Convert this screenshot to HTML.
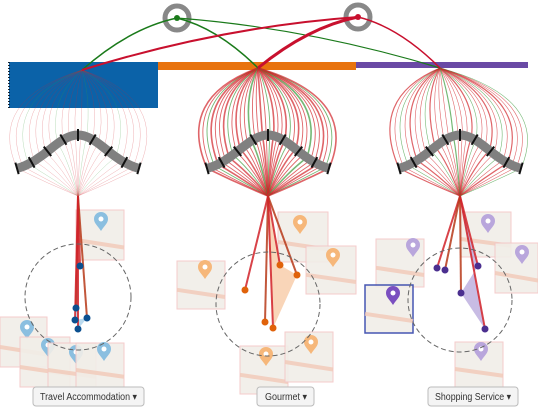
<!DOCTYPE html>
<html><head><meta charset="utf-8"><style>
html,body{margin:0;padding:0;background:#fff;}
svg{display:block;font-family:"Liberation Sans","Noto Sans CJK SC",sans-serif;}
.btn{fill:#f4f4f4;stroke:#bbb;}
</style></head><body>
<svg id="s" width="538" height="411" viewBox="0 0 538 411" xmlns="http://www.w3.org/2000/svg">
<g id="maps"></g>
<rect x="9" y="62" width="149" height="46" fill="#0b62a8"/>
<line x1="9" y1="62" x2="9" y2="108" stroke="#123" stroke-width="2" stroke-dasharray="1,2"/>
<rect x="158" y="62" width="198" height="8" fill="#e8730e"/>
<rect x="356" y="62" width="172" height="6" fill="#6a4aa5"/>
<g id="fans"></g>
<g id="arcs"></g>
<circle cx="177" cy="18" r="12" fill="none" stroke="#888" stroke-width="5"/>
<circle cx="358" cy="17" r="12" fill="none" stroke="#888" stroke-width="5"/>
<g id="top"></g>
<circle cx="177" cy="18" r="3" fill="#1a7a1a"/>
<circle cx="358" cy="17" r="3" fill="#c8102e"/>
<g id="low"></g>
<circle cx="78" cy="297" r="53" fill="none" stroke="#666" stroke-dasharray="5,3"/>
<circle cx="268" cy="304" r="52" fill="none" stroke="#666" stroke-dasharray="5,3"/>
<circle cx="460" cy="300" r="52" fill="none" stroke="#666" stroke-dasharray="5,3"/>
<rect class="btn" x="33" y="387" width="111" height="19" rx="3"/>
<text x="40" y="400" font-size="10" fill="#333" textLength="97" lengthAdjust="spacingAndGlyphs">Travel Accommodation ▾</text>
<rect class="btn" x="257" y="387" width="57" height="19" rx="3"/>
<text x="265" y="400" font-size="10" fill="#333" textLength="42" lengthAdjust="spacingAndGlyphs">Gourmet ▾</text>
<rect class="btn" x="428" y="387" width="90" height="19" rx="3"/>
<text x="435" y="400" font-size="10" fill="#333" textLength="76" lengthAdjust="spacingAndGlyphs">Shopping Service ▾</text>
</svg>
<script>
var NS="http://www.w3.org/2000/svg";
function el(p,t,a){var e=document.createElementNS(NS,t);for(var k in a)e.setAttribute(k,a[k]);document.getElementById(p).appendChild(e);return e;}
var tiles=[
[76,210,48,50,101,222,"#8bbfe0"],[0,317,47,50,27,330,"#8bbfe0"],[20,337,50,50,48,348,"#8bbfe0"],[48,343,48,45,76,355,"#8bbfe0"],[76,343,48,45,104,352,"#8bbfe0"],
[177,261,48,48,205,270,"#f6b77a"],[278,212,50,50,300,225,"#f6b77a"],[306,246,50,48,333,258,"#f6b77a"],[240,346,48,48,266,357,"#f6b77a"],[285,332,48,50,311,345,"#f6b77a"],
[376,239,48,48,413,248,"#b9a6dc"],[461,212,50,45,488,224,"#b9a6dc"],[495,243,43,50,522,255,"#b9a6dc"],[455,342,48,45,481,352,"#b9a6dc"],[365,285,48,48,393,296,"#7b4fc0"]];
tiles.forEach(function(t,i){
 el("maps","rect",{x:t[0],y:t[1],width:t[2],height:t[3],fill:"#f1eee8",stroke:i==14?"#3344aa":"#f3c6c6","stroke-width":i==14?1.5:1,opacity:0.9});
 el("maps","line",{x1:t[0],y1:t[1]+t[3]*0.6,x2:t[0]+t[2],y2:t[1]+t[3]*0.75,stroke:"#f2c9b8","stroke-width":4,opacity:0.8});
 el("maps","path",{d:"M"+t[4]+","+(t[5]+9)+" c-4,-6 -7,-8 -7,-12 a7,7 0 1 1 14,0 c0,4 -3,6 -7,12z",fill:t[6]});
 el("maps","circle",{cx:t[4],cy:t[5]-3,r:2.5,fill:"#fff"});
});
var clusters=[[78,82,70],[268,258,68],[460,440,68]];
clusters.forEach(function(c,ci){
 var cx=c[0],S=[c[1],c[2]],F=[cx,196];
 function arcPt(u){var x=cx-61+122*u; var d=(x-cx)/40; var y=172-37*Math.exp(-d*d); return [x,y];}
 var n=ci==1?34:(ci==0?22:28);
 for(var i=0;i<n;i++){
  var u=i/(n-1), P=arcPt(u);
  var col=(i%5==2)?"#3a9a3a":"#d2232a";
  var w=ci==1?(i%3==0?1.6:0.9):(ci==2?(i%4==0?1.2:0.6):0.5);
  var op=ci==0?0.35:0.7;
  el("fans","path",{d:"M"+S[0]+","+S[1]+" Q"+(P[0]+(P[0]-cx)*0.5)+","+(S[1]+30)+" "+P[0]+","+P[1]+" Q"+((P[0]+cx)/2)+","+(P[1]+15)+" "+F[0]+","+F[1],fill:"none",stroke:col,"stroke-width":w,opacity:op});
 }
 var d="";for(var k=0;k<=40;k++){var p=arcPt(k/40);d+=(k?"L":"M")+p[0].toFixed(1)+","+p[1].toFixed(1);}
 el("arcs","path",{d:d,fill:"none",stroke:"#808080","stroke-width":9});
 [0,0.12,0.25,0.38,0.5,0.62,0.75,0.88,1].forEach(function(u){
  var p=arcPt(u),q=arcPt(Math.min(1,u+0.01)),r=arcPt(Math.max(0,u-0.01));
  var dx=q[0]-r[0],dy=q[1]-r[1],L=Math.hypot(dx,dy),nx=-dy/L*6,ny=dx/L*6;
  el("arcs","line",{x1:p[0]-nx,y1:p[1]-ny,x2:p[0]+nx,y2:p[1]+ny,stroke:"#111","stroke-width":2});
 });
});
[[177,18,82,70,"#1a7a1a",1.5],[177,18,258,68,"#1a7a1a",1.5],[177,18,440,68,"#1a7a1a",1.2],[358,17,82,70,"#c8102e",2],[358,17,258,68,"#c8102e",3],[358,17,440,68,"#c8102e",1.5]].forEach(function(l){
 el("top","path",{d:"M"+l[0]+","+l[1]+" Q"+((l[0]+l[2])/2)+","+(l[1]+10)+" "+l[2]+","+l[3],fill:"none",stroke:l[4],"stroke-width":l[5]});
});
var low=[
[78,"#0b4f8f","#9ccbe8",[[80,266],[76,308],[75,320],[87,318],[78,329]]],
[268,"#e0620a","#f6c39a",[[245,290],[265,322],[280,265],[297,275],[273,328]]],
[460,"#4b2f8f","#b0a0d8",[[437,268],[445,270],[478,266],[461,293],[485,329]]]];
low.forEach(function(g){
 var pts=g[3];
 el("low","polygon",{points:[[g[0],200]].concat(pts.slice(2)).map(function(p){return p.join(",")}).join(" "),fill:g[2],opacity:0.7});
 pts.forEach(function(p,i){
  el("low","line",{x1:g[0],y1:196,x2:p[0],y2:p[1],stroke:i%2?"#b83a1a":"#d2232a","stroke-width":2,opacity:0.85});
 });
 pts.forEach(function(p){el("low","circle",{cx:p[0],cy:p[1],r:3.5,fill:g[1]});});
});
</script>
</body></html>
